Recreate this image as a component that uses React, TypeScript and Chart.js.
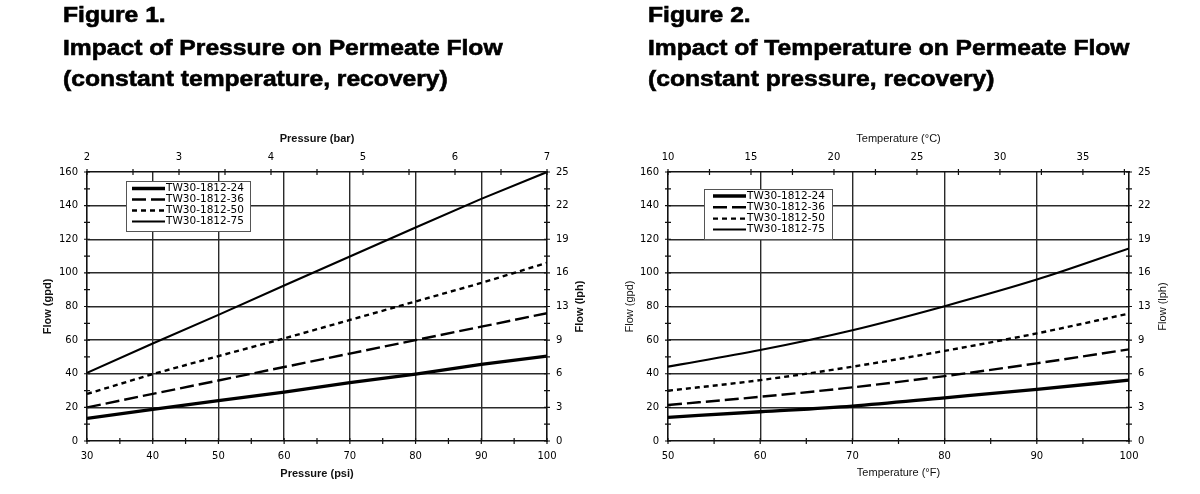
import React, { useEffect, useRef } from 'react';
import { Chart, registerables } from 'chart.js';

Chart.register(...registerables);

// ---------- data ----------
const seriesNames = ['TW30-1812-24', 'TW30-1812-36', 'TW30-1812-50', 'TW30-1812-75'];

// Figure 1: pressure (psi) -> flow (gpd)
const pressurePsi = [30, 40, 50, 60, 70, 80, 90, 100];
const pressureFlow24 = [13.5, 18.8, 24, 29.1, 34.7, 39.8, 45.6, 50.5];
const pressureFlow36 = [20, 28, 36, 44, 52, 60, 68, 76];
const pressureFlow50 = [28, 39.8, 50.5, 61, 72, 83, 94, 106];
const pressureFlow75 = [40.5, 58, 75, 92.5, 109.7, 127, 144, 160];

// Figure 2: temperature (°F) -> flow (gpd)
const temperatureF = [50, 60, 70, 80, 90, 100];
const tempFlow24 = [14.1, 17.4, 20.8, 25.7, 30.7, 36.2];
const tempFlow36 = [21.4, 26.3, 31.9, 38.6, 46.2, 54.5];
const tempFlow50 = [29.9, 36.2, 44.2, 53.6, 64, 75.8];
const tempFlow75 = [44.2, 54.1, 65.9, 80.2, 96, 114.5];

// ticks
const psiTicks = [30, 35, 40, 45, 50, 55, 60, 65, 70, 75, 80, 85, 90, 95, 100];
const psiLabels = [30, 40, 50, 60, 70, 80, 90, 100];
const psiGrid = [40, 50, 60, 70, 80, 90];
const barTicks = [2, 2.5, 3, 3.5, 4, 4.5, 5, 5.5, 6, 6.5, 7];
const barLabels = [2, 3, 4, 5, 6, 7];

const fahrenheitTicks = [50, 55, 60, 65, 70, 75, 80, 85, 90, 95, 100];
const fahrenheitLabels = [50, 60, 70, 80, 90, 100];
const fahrenheitGrid = [60, 70, 80, 90];
const celsiusTicks = [10, 12.5, 15, 17.5, 20, 22.5, 25, 27.5, 30, 32.5, 35, 37.5];
const celsiusLabels = [10, 15, 20, 25, 30, 35];
const celsiusMax = (100 - 32) / 1.8;

const gpdTicks = [0, 10, 20, 30, 40, 50, 60, 70, 80, 90, 100, 110, 120, 130, 140, 150, 160];
const gpdLabels = [0, 20, 40, 60, 80, 100, 120, 140, 160];
const gpdGrid = [20, 40, 60, 80, 100, 120, 140];
const lphLabels = ['0', '3', '6', '9', '13', '16', '19', '22', '25'];

// ---------- styles ----------
const lineStyles = [
  { width: 3.3, dash: [] as number[] },
  { width: 2.4, dash: [14, 5] },
  { width: 2.4, dash: [5, 4] },
  { width: 2.1, dash: [] as number[] },
];
const tickFont = { family: '"DejaVu Sans", sans-serif', size: 10 };
const gridColor = '#2a2a2a';
const borderColor = '#111';

const decorPlugin = {
  id: 'decor',
  afterDraw(chart: any, _args: any, opts: any) {
    const ctx = chart.ctx as CanvasRenderingContext2D;
    const a = chart.chartArea;
    const { x, x2, y, y2 } = chart.scales;
    ctx.save();
    ctx.strokeStyle = '#111';
    ctx.lineWidth = 1.2;
    ctx.beginPath();
    for (const t of x.ticks) {
      const p = x.getPixelForValue(t.value);
      ctx.moveTo(p, a.bottom - 3);
      ctx.lineTo(p, a.bottom + 3);
    }
    for (const t of x2.ticks) {
      const p = x2.getPixelForValue(t.value);
      ctx.moveTo(p, a.top - 3);
      ctx.lineTo(p, a.top + 3);
    }
    for (const t of y.ticks) {
      const p = y.getPixelForValue(t.value);
      ctx.moveTo(a.left - 3, p);
      ctx.lineTo(a.left + 3, p);
    }
    for (const t of y2.ticks) {
      const p = y2.getPixelForValue(t.value);
      ctx.moveTo(a.right - 3, p);
      ctx.lineTo(a.right + 3, p);
    }
    ctx.stroke();

    // right axis title (reads bottom-to-top)
    ctx.save();
    ctx.translate(opts.rightTitleX, (a.top + a.bottom) / 2);
    ctx.rotate(-Math.PI / 2);
    ctx.font = `${opts.titleWeight} 11px "Liberation Sans", Arial, sans-serif`;
    ctx.fillStyle = '#111';
    ctx.textAlign = 'center';
    ctx.textBaseline = 'middle';
    ctx.fillText(opts.rightTitle, 0, 0);
    ctx.restore();

    // legend
    const lg = opts.legend;
    ctx.fillStyle = '#fff';
    ctx.fillRect(lg.x1, lg.y1, lg.x2 - lg.x1, lg.y2 - lg.y1);
    ctx.strokeStyle = '#555';
    ctx.lineWidth = 1;
    ctx.strokeRect(lg.x1 + 0.5, lg.y1 + 0.5, lg.x2 - lg.x1, lg.y2 - lg.y1);
    chart.data.datasets.forEach((ds: any, i: number) => {
      const yy = lg.rows[i];
      ctx.beginPath();
      ctx.setLineDash(ds.borderDash || []);
      ctx.lineWidth = ds.borderWidth;
      ctx.strokeStyle = ds.borderColor;
      ctx.moveTo(lg.sx1, yy);
      ctx.lineTo(lg.sx2, yy);
      ctx.stroke();
      ctx.setLineDash([]);
      ctx.fillStyle = '#000';
      ctx.font = '10.5px "DejaVu Sans", sans-serif';
      ctx.textAlign = 'left';
      ctx.textBaseline = 'middle';
      ctx.fillText(ds.label, lg.tx, yy);
    });
    ctx.restore();
  },
};

type Panel = {
  xs: number[];
  ys: number[][];
  xMin: number; xMax: number; xTicks: number[]; xLabels: number[]; xGrid: number[];
  tMin: number; tMax: number; tTicks: number[]; tLabels: number[];
  xTitle: string; tTitle: string; titleWeight: string; smooth: boolean;
  leftW: number; rightW: number; topH: number; bottomH: number;
  gpdPad: number; bottomPad: number; rightTitleX: number;
  legend: any;
};

function buildConfig(p: Panel): any {
  const titleFont = { family: '"Liberation Sans", Arial, sans-serif', size: 11, weight: p.titleWeight };
  const gridFor = (list: number[]) => ({
    drawTicks: false,
    lineWidth: 1.4,
    color: (c: any) => (c.tick && list.includes(c.tick.value) ? gridColor : 'rgba(0,0,0,0)'),
  });
  const border = { display: true, color: borderColor, width: 1.6 };
  const tickBase = { autoSkip: false, maxRotation: 0, minRotation: 0, padding: 9, font: tickFont, color: '#000' };
  return {
    type: 'line',
    data: {
      datasets: p.ys.map((ser, i) => ({
        label: seriesNames[i],
        data: p.xs.map((xv, j) => ({ x: xv, y: ser[j] })),
        borderColor: '#000',
        borderWidth: lineStyles[i].width,
        borderDash: lineStyles[i].dash,
        pointRadius: 0,
        fill: false,
        tension: p.smooth ? 0.35 : 0,
        cubicInterpolationMode: p.smooth ? 'monotone' : 'default',
      })),
    },
    options: {
      responsive: false,
      animation: false,
      events: [],
      layout: { padding: 0 },
      plugins: {
        legend: { display: false },
        tooltip: { enabled: false },
        title: { display: false },
        decor: { rightTitleX: p.rightTitleX, rightTitle: 'Flow (lph)', titleWeight: p.titleWeight, legend: p.legend },
      },
      scales: {
        x: {
          type: 'linear', position: 'bottom', min: p.xMin, max: p.xMax,
          afterBuildTicks: (s: any) => { s.ticks = p.xTicks.map((v) => ({ value: v })); },
          ticks: { ...tickBase, callback: (v: number) => (p.xLabels.includes(v) ? String(v) : '') },
          grid: gridFor(p.xGrid),
          border,
          title: { display: true, text: p.xTitle, font: titleFont, color: '#111', padding: { top: 0, bottom: p.bottomPad } },
          afterFit: (s: any) => { s.height = p.bottomH; },
        },
        x2: {
          type: 'linear', position: 'top', min: p.tMin, max: p.tMax,
          afterBuildTicks: (s: any) => { s.ticks = p.tTicks.map((v) => ({ value: v })); },
          ticks: { ...tickBase, callback: (v: number) => (p.tLabels.includes(v) ? String(v) : '') },
          grid: { drawOnChartArea: false, drawTicks: false },
          border,
          title: { display: true, text: p.tTitle, font: titleFont, color: '#111', padding: { top: 132.4, bottom: 0 } },
          afterFit: (s: any) => { s.height = p.topH; },
        },
        y: {
          type: 'linear', position: 'left', min: 0, max: 160,
          afterBuildTicks: (s: any) => { s.ticks = gpdTicks.map((v) => ({ value: v })); },
          ticks: { ...tickBase, callback: (v: number) => (gpdLabels.includes(v) ? String(v) : '') },
          grid: gridFor(gpdGrid),
          border,
          title: { display: true, text: 'Flow (gpd)', font: titleFont, color: '#111', padding: { top: p.gpdPad, bottom: 0 } },
          afterFit: (s: any) => { s.width = p.leftW; },
        },
        y2: {
          type: 'linear', position: 'right', min: 0, max: 160,
          afterBuildTicks: (s: any) => { s.ticks = gpdTicks.map((v) => ({ value: v })); },
          ticks: {
            ...tickBase,
            callback: (v: number) => {
              const k = gpdLabels.indexOf(v);
              return k >= 0 ? lphLabels[k] : '';
            },
          },
          grid: { drawOnChartArea: false, drawTicks: false },
          border,
          afterFit: (s: any) => { s.width = p.rightW; },
        },
      },
    },
    plugins: [decorPlugin],
  };
}

const panel1: Panel = {
  xs: pressurePsi,
  ys: [pressureFlow24, pressureFlow36, pressureFlow50, pressureFlow75],
  xMin: 30, xMax: 100, xTicks: psiTicks, xLabels: psiLabels, xGrid: psiGrid,
  tMin: 2, tMax: 7, tTicks: barTicks, tLabels: barLabels,
  xTitle: 'Pressure (psi)', tTitle: 'Pressure (bar)', titleWeight: 'bold', smooth: false,
  leftW: 87, rightW: 53, topH: 172, bottomH: 53,
  gpdPad: 41.4, bottomPad: 13.4, rightTitleX: 580,
  legend: { x1: 126, y1: 181, x2: 250, y2: 231, rows: [188.5, 199.5, 210.5, 221.5], sx1: 132, sx2: 165, tx: 166 },
};

const panel2: Panel = {
  xs: temperatureF,
  ys: [tempFlow24, tempFlow36, tempFlow50, tempFlow75],
  xMin: 50, xMax: 100, xTicks: fahrenheitTicks, xLabels: fahrenheitLabels, xGrid: fahrenheitGrid,
  tMin: 10, tMax: celsiusMax, tTicks: celsiusTicks, tLabels: celsiusLabels,
  xTitle: 'Temperature (°F)', tTitle: 'Temperature (°C)', titleWeight: 'normal', smooth: true,
  leftW: 68, rightW: 71, topH: 172, bottomH: 53,
  gpdPad: 23.4, bottomPad: 14.4, rightTitleX: 563,
  legend: { x1: 104, y1: 189, x2: 232, y2: 239, rows: [196, 207.3, 218.6, 229.5], sx1: 113, sx2: 146, tx: 147 },
};

function ChartPanel({ panel, left }: { panel: Panel; left: number }) {
  const ref = useRef<HTMLCanvasElement>(null);
  useEffect(() => {
    const chart = new Chart(ref.current as HTMLCanvasElement, buildConfig(panel));
    return () => chart.destroy();
  }, [panel]);
  return (
    <div style={{ position: 'absolute', left, top: 0, width: 600, height: 494 }}>
      <canvas ref={ref} width={600} height={494} style={{ display: 'block', width: 600, height: 494 }} />
    </div>
  );
}

const titleStyle: React.CSSProperties = {
  position: 'absolute',
  fontFamily: '"Liberation Sans", Arial, sans-serif',
  fontWeight: 700,
  fontSize: 22,
  lineHeight: '22px',
  whiteSpace: 'nowrap',
  color: '#000',
  transform: 'scaleX(1.12)',
  transformOrigin: 'left top',
  WebkitTextStroke: '0.6px #000',
};

const titleTops = [4, 37.4, 68.4];
const fig1Title = ['Figure 1.', 'Impact of Pressure on Permeate Flow', '(constant temperature, recovery)'];
const fig2Title = ['Figure 2.', 'Impact of Temperature on Permeate Flow', '(constant pressure, recovery)'];

export default function App() {
  return (
    <div style={{ position: 'fixed', left: 0, top: 0, width: 1200, height: 494, background: '#fff', overflow: 'hidden' }}>
      <ChartPanel panel={panel1} left={0} />
      <ChartPanel panel={panel2} left={600} />
      {fig1Title.map((t, i) => (
        <div key={'a' + i} style={{ ...titleStyle, left: 63, top: titleTops[i] }}>{t}</div>
      ))}
      {fig2Title.map((t, i) => (
        <div key={'b' + i} style={{ ...titleStyle, left: 648, top: titleTops[i] }}>{t}</div>
      ))}
    </div>
  );
}
